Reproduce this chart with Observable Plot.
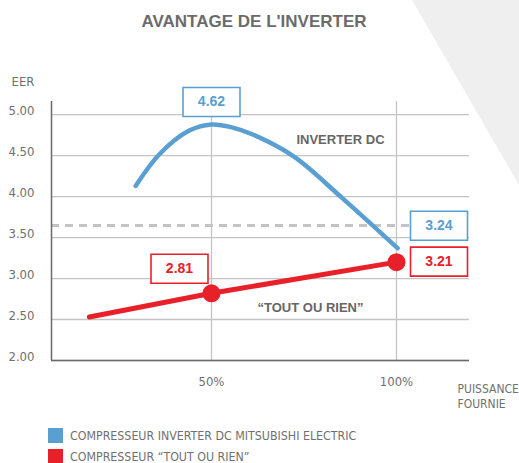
<!DOCTYPE html>
<html><head><meta charset="utf-8">
<script src="https://cdn.jsdelivr.net/npm/d3@7"></script>
<script src="https://cdn.jsdelivr.net/npm/@observablehq/plot@0.6"></script>
<style>
body{margin:0;background:#fff;}
#wrap{position:relative;width:519px;height:463px;overflow:hidden;font-family:"Liberation Sans Narrow","DejaVu Sans Condensed","Roboto",sans-serif;color:#707070;}
#bg{position:absolute;left:0;top:0;width:519px;height:463px;background:#efefef;clip-path:polygon(412px 0,519px 0,519px 185px);}
#title{position:absolute;top:12px;left:0;width:508px;text-align:center;font:bold 17px "Liberation Sans",Arial,sans-serif;color:#6b6b6b;white-space:nowrap;}
#chart{position:absolute;top:40px;left:0;}
#legend{position:absolute;left:48px;top:425px;font-size:12.3px;}
.item{display:flex;align-items:center;height:21px;white-space:nowrap;}
.sw{width:15px;height:15px;margin-right:7px;flex:none;}
</style>
</head><body>
<div id="wrap">
  <div id="bg"></div>
  <div id="title">AVANTAGE DE L'INVERTER</div>
  <div id="chart"></div>
  <div id="legend"></div>
</div>
<script>
// ---- data ----
const title = "AVANTAGE DE L'INVERTER";
const yTicks = [2, 2.5, 3, 3.5, 4, 4.5, 5];
const xTicks = [50, 100];
const blueX = [29.5, 36, 44, 50, 55.5, 61, 72.2, 84.9, 100.3];
const blueY = [4.13, 4.52, 4.805, 4.88, 4.845, 4.76, 4.49, 4.00, 3.37];
const redX = [17, 50, 100];
const redY = [2.53, 2.82, 3.2];
const redDotX = [50, 100];
const redDotY = [2.82, 3.2];
const thresholdY = [3.646];
const seriesNames = ["COMPRESSEUR INVERTER DC MITSUBISHI ELECTRIC", "COMPRESSEUR \u201cTOUT OU RIEN\u201d"];
const seriesColors = ["#5a9fd2", "#e8202a"];
const boxLabels = ["4.62", "3.24", "2.81", "3.21"];
const annotations = ["INVERTER DC", "\u201cTOUT OU RIEN\u201d"];

const blue = blueX.map((x, i) => ({x, y: blueY[i]}));
const red = redX.map((x, i) => ({x, y: redY[i]}));
const redDots = redDotX.map((x, i) => ({x, y: redDotY[i]}));
const xDomain = [6.76, 119.73];
const yDomain = [2, 5.16];

const box = {draw(ctx) { ctx.moveTo(-28.5, -14.5); ctx.lineTo(28.5, -14.5); ctx.lineTo(28.5, 14.5); ctx.lineTo(-28.5, 14.5); ctx.closePath(); }};
const gray = "#707070";
const font = "\"Liberation Sans Narrow\",\"DejaVu Sans Condensed\",Roboto,sans-serif";
const boldFont = "\"Liberation Sans\",Arial,sans-serif";

function labelBox(pt, text, color, dx, dy) {
  return [
    Plot.dot([pt], {x: "x", y: "y", symbol: box, r: 5, fill: "white", stroke: color, strokeWidth: 1.6, dx, dy}),
    Plot.text([pt], {x: "x", y: "y", text: () => text, fill: color, fontWeight: "bold", fontSize: 14, fontFamily: boldFont, dx, dy})
  ];
}

const chart = Plot.plot({
  width: 519, height: 380,
  marginLeft: 51, marginRight: 50, marginTop: 61, marginBottom: 60,
  style: {fontFamily: font, fontSize: "13px", color: gray, background: "transparent", overflow: "visible"},
  x: {domain: xDomain},
  y: {domain: yDomain},
  marks: [
    Plot.gridY(yTicks, {stroke: "#c4c4c4", strokeOpacity: 1, strokeWidth: 1.3}),
    Plot.gridX(xTicks, {stroke: "#c4c4c4", strokeOpacity: 1, strokeWidth: 1.3}),
    Plot.ruleY(thresholdY, {stroke: "#c4c4c4", strokeWidth: 3, strokeDasharray: "8,6"}),
    Plot.ruleX([xDomain[0]], {stroke: "#6a6a6a", strokeWidth: 1.5}),
    Plot.ruleY([yDomain[0]], {stroke: "#6a6a6a", strokeWidth: 1.5}),
    Plot.axisY(yTicks, {tickSize: 0, tickPadding: 17, tickFormat: d3.format(".2f"), label: null, dy: -4, fill: gray, fontSize: 13}),
    Plot.axisX(xTicks, {tickSize: 0, tickPadding: 16, tickFormat: d => d + "%", label: null, fill: gray, fontSize: 13}),
    Plot.text(["EER"], {frameAnchor: "top-left", dx: -17, dy: -25, textAnchor: "end", fill: gray, fontSize: 13}),
    Plot.text(["PUISSANCE\nFOURNIE"], {frameAnchor: "bottom-right", dx: -12, dy: 22, textAnchor: "start", lineAnchor: "top", lineHeight: 1.25, fill: gray, fontSize: 12}),
    Plot.line(blue, {x: "x", y: "y", stroke: seriesColors[0], strokeWidth: 4.5, curve: "catmull-rom"}),
    Plot.line(red, {x: "x", y: "y", stroke: seriesColors[1], strokeWidth: 5}),
    Plot.dot(redDots, {x: "x", y: "y", r: 9, fill: seriesColors[1]}),
    Plot.text([annotations[0]], {frameAnchor: "top-left", dx: 289, dy: 33, textAnchor: "middle", fill: "#666", fontWeight: "bold", fontSize: 13, fontFamily: boldFont}),
    Plot.text([annotations[1]], {frameAnchor: "top-left", dx: 259, dy: 201, textAnchor: "middle", fill: "#666", fontWeight: "bold", fontSize: 13, fontFamily: boldFont}),
    ...labelBox(blue[3], boxLabels[0], seriesColors[0], 0, -22.5),
    ...labelBox({x: 100, y: 3.4}, boxLabels[1], seriesColors[0], 42.5, -20),
    ...labelBox(redDots[0], boxLabels[2], seriesColors[1], -32, -24.5),
    ...labelBox(redDots[1], boxLabels[3], seriesColors[1], 42.5, -0.5)
  ]
});
document.getElementById("chart").appendChild(chart);
document.getElementById("title").textContent = title;
const legend = document.getElementById("legend");
seriesNames.forEach((n, i) => {
  const it = document.createElement("div"); it.className = "item";
  const sw = document.createElement("div"); sw.className = "sw"; sw.style.background = seriesColors[i];
  const tx = document.createElement("span"); tx.textContent = n;
  it.appendChild(sw); it.appendChild(tx); legend.appendChild(it);
});
</script>
</body></html>
